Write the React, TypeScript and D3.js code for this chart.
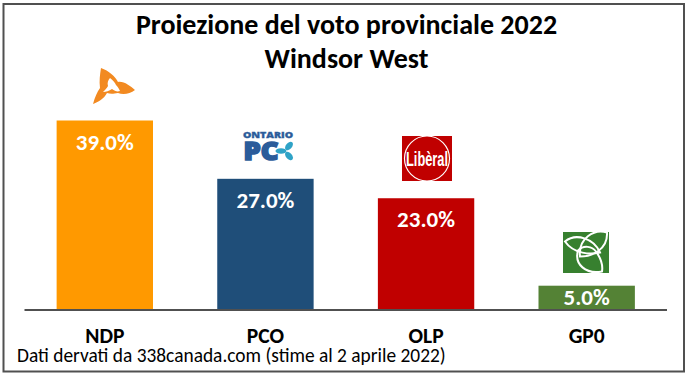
import React from "react";
import * as d3 from "d3";

const parties = ["NDP", "PCO", "OLP", "GP0"];
const shares = [39, 27, 23, 5];
const colors = ["#FF9900", "#1F4E79", "#C00000", "#548235"];
const titleLines = ["Proiezione del voto provinciale 2022", "Windsor West"];
const source = "Dati dervati da 338canada.com (stime al 2 aprile 2022)";
const font = "Carlito, 'Open Sans', 'Noto Sans', sans-serif";

const W = 691, H = 377;
const x = d3.scaleBand<string>().domain(parties).range([24.5, 667]).paddingInner(0.4).paddingOuter(0.2);
const y = d3.scaleLinear().domain([0, 39]).range([310, 120.5]);

function NdpLogo({ cx, cy }: { cx: number; cy: number }) {
  return (
    <g transform={`translate(${cx},${cy})`}>
      <path d="M-15,-18 C-7,-15 -1,-10 2,-4 C8,-5 14,0 19,4 C14,8 7,9 2,7 C-3,8 -6,8 -9,7 C-12,13 -18,16 -23,18 C-21,11 -19,6 -16,2 C-17,-5 -16,-12 -15,-18 Z" fill="#F28A21" />
      <path d="M-6,-8 C-3,-6 -1,-3 0,-1 C2,1 3,3 4,5 C1,6 -1,5 -4,3 C-7,5 -10,6 -13,6 C-11,4 -9,2 -8,0 C-9,-3 -8,-6 -6,-8 Z" fill="#fff" />
    </g>
  );
}

function PcLogo({ cx, cy }: { cx: number; cy: number }) {
  return (
    <g transform={`translate(${cx},${cy})`}>
      <text x={0} y={-8} textAnchor="middle" fontFamily="'Open Sans', sans-serif" fontWeight={800} fontSize={8} fill="#2B5C9A" stroke="#2B5C9A" strokeWidth={0.3} textLength={50} lengthAdjust="spacingAndGlyphs">ONTARIO</text>
      <text x={-24.5} y={14} fontFamily="'Open Sans', sans-serif" fontWeight={800} fontSize={25} fill="#2B5C9A" stroke="#2B5C9A" strokeWidth={1.6} textLength={35} lengthAdjust="spacingAndGlyphs">PC</text>
      <ellipse cx={13} cy={5} rx={5.5} ry={2.8} fill="#2FA3C7" />
      <ellipse cx={21} cy={0} rx={5} ry={3} transform="rotate(-50 21 0)" fill="#2FA3C7" />
      <ellipse cx={21} cy={10} rx={5} ry={3} transform="rotate(50 21 10)" fill="#2FA3C7" />
    </g>
  );
}

function LiberalLogo({ cx, cy }: { cx: number; cy: number }) {
  return (
    <g transform={`translate(${cx},${cy})`}>
      <rect x={-25} y={-22.5} width={50} height={45} fill="#C00000" />
      <circle r={22.5} fill="#C00000" stroke="#fff" strokeWidth={1.2} />
      <text y={7} textAnchor="middle" fontFamily="'Liberation Sans Narrow', 'Liberation Sans', sans-serif" fontWeight={700} fontSize={20} fill="#fff" textLength={42} lengthAdjust="spacingAndGlyphs">Libèral</text>
    </g>
  );
}

function GreenLogo({ cx, cy }: { cx: number; cy: number }) {
  return (
    <g transform={`translate(${cx},${cy})`}>
      <rect x={-23} y={-20.5} width={46} height={41} fill="#37802F" />
      <g fill="none" stroke="#fff" strokeWidth={2}>
        <path d="M-21,-11 C-10,-20 8,-14 14,0 C5,2 -12,2 -21,-11 Z" />
        <path d="M21,-20 C8,-24 -8,-14 -6,4 C5,4 22,-2 21,-20 Z" />
        <path d="M16,19 C0,22 -12,12 -8,-2 C-2,-8 6,-6 10,-1 C15,6 17,13 16,19 Z" />
      </g>
    </g>
  );
}

const logoPos = [
  { cx: 116, cy: 86 },
  { cx: 268, cy: 146 },
  { cx: 427, cy: 158.5 },
  { cx: 586, cy: 252.5 },
];

export default function App() {
  const bw = x.bandwidth();
  return (
    <svg width={W} height={H} style={{ position: "absolute", left: 0, top: 0, background: "#fff" }}>
      <rect x={3.5} y={4} width={680.5} height={367.5} fill="none" stroke="#505050" strokeWidth={2} />
      {titleLines.map((t, i) => (
        <text key={t} x={346.5} y={34 + i * 34} textAnchor="middle" fontFamily={font} fontWeight={700} fontSize={28} fill="#000">{t}</text>
      ))}
      {parties.map((p, i) => {
        const xp = x(p)!;
        const yv = y(shares[i]);
        const small = shares[i] < 10;
        return (
          <g key={p}>
            <rect x={xp} y={yv} width={bw} height={y(0) - yv} fill={colors[i]} />
            <text x={xp + bw / 2} y={small ? yv + 19 : yv + 29} textAnchor="middle" fontFamily={font} fontWeight={700} fontSize={23} fill="#fff">{shares[i].toFixed(1)}%</text>
            <text x={xp + bw / 2} y={343} textAnchor="middle" fontFamily={font} fontWeight={700} fontSize={21.5} fill="#000">{p}</text>
          </g>
        );
      })}
      <line x1={24.5} x2={667} y1={y(0)} y2={y(0)} stroke="#505050" strokeWidth={2} />
      <NdpLogo {...logoPos[0]} />
      <PcLogo {...logoPos[1]} />
      <LiberalLogo {...logoPos[2]} />
      <GreenLogo {...logoPos[3]} />
      <text x={17} y={362} fontFamily={font} fontSize={19.4} fill="#000">{source}</text>
    </svg>
  );
}
